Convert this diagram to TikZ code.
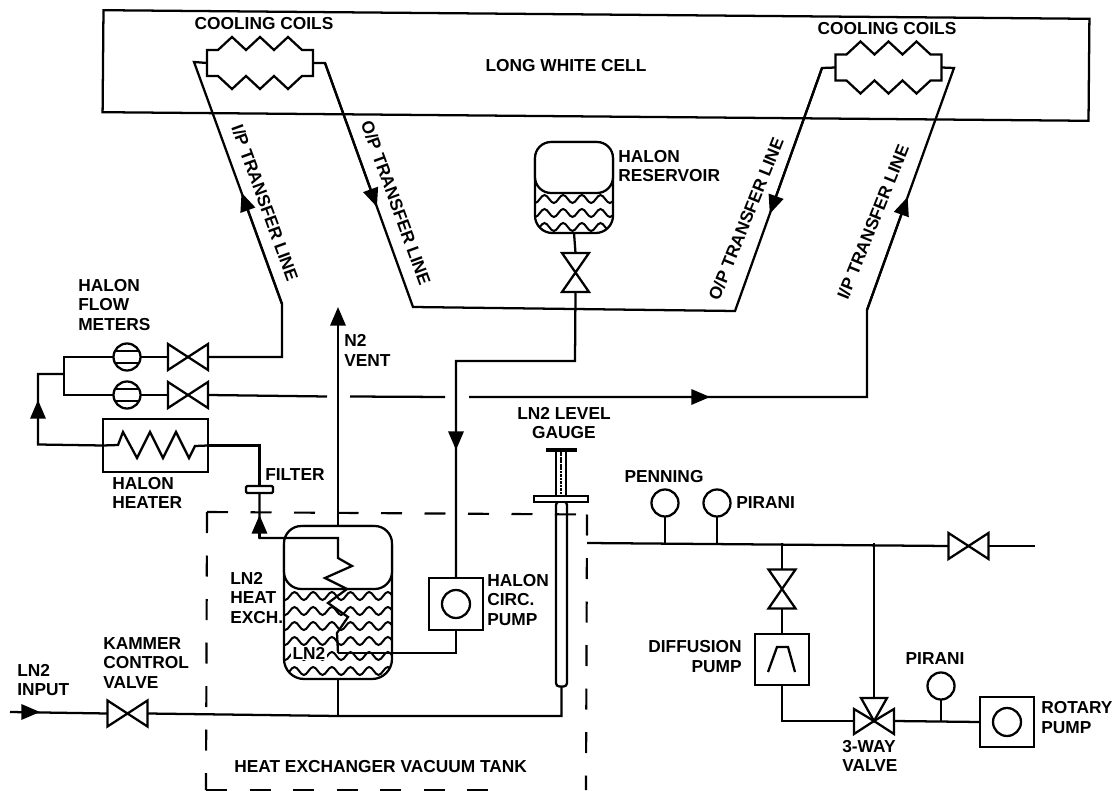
\documentclass[tikz,border=0pt]{standalone}
\usepackage{fontspec}
\setmainfont{Liberation Sans}
\usetikzlibrary{arrows.meta,calc,decorations.pathmorphing}
\def\px{0.75pt}
\newcommand{\hvalve}[2]{\node[valvebox,minimum width=40*\px,minimum height=26*\px] (#1) at (#2) {};
  \draw[pipe] (#1.south west) -- (#1.north east) -- (#1.south east) -- (#1.north west) -- cycle;}
\newcommand{\vvalve}[2]{\node[valvebox,minimum width=27*\px,minimum height=39*\px] (#1) at (#2) {};
  \draw[pipe] (#1.north west) -- (#1.south east) -- (#1.south west) -- (#1.north east) -- cycle;}
\newcommand{\coil}[2]{\node[valvebox,minimum width=106*\px,minimum height=26*\px] (#1) at (#2) {};
  \draw[pipe] (#1.north west) -- ++(11,0) -- ++(14,-13) -- ++(14,13) -- ++(14,-13) -- ++(14,13) -- ++(14,-13) -- ++(14,13) -- (#1.north east)
    -- (#1.south east) -- ++(-11,0) -- ++(-14,13) -- ++(-14,-13) -- ++(-14,13) -- ++(-14,-13) -- ++(-14,13) -- ++(-14,-13) -- (#1.south west) -- cycle;}

\begin{document}
\begin{tikzpicture}[
    x=\px, y=-\px,
    pipe/.style={line width=1.7pt, line join=miter},
    arrow/.style={pipe, -{Triangle[length=14pt,width=11.5pt]}},
    valvebox/.style={inner sep=0pt, outer sep=0pt},
    unit/.style={draw, line width=1.7pt, inner sep=0pt, outer sep=0pt},
    gauge/.style={unit, circle, minimum size=27*\px},
    meter/.style={gauge, path picture={
      \draw[pipe] ([yshift=4.5pt]path picture bounding box.west) -- ([yshift=4.5pt]path picture bounding box.east);
      \draw[pipe] ([yshift=-4.5pt]path picture bounding box.west) -- ([yshift=-4.5pt]path picture bounding box.east);}},
    wave/.style={decorate, decoration={snake,segment length=14pt,amplitude=3pt}, line width=1.5pt},
    tankline/.style={line width=1.6pt, dash pattern=on 21*\px off 22.5*\px},
    lbl/.style={font=\bfseries\fontsize{13}{14.6}\selectfont, align=left, inner sep=0pt},
    ctr/.style={lbl, align=center}
  ]
    \useasboundingbox (0,0) rectangle (1117,791);
    % long white cell
    \node[unit, rotate=-0.5, minimum width=986*\px, minimum height=102*\px] (cell) at (596,65.5) {};
    \node[ctr] (celltext) at (566,66) {LONG WHITE CELL};
    \coil{coila}{260,63}
    \coil{coilb}{888.5,67.5}
    \node[ctr] (coilatext) at (264,24) {COOLING COILS};
    \node[ctr] (coilbtext) at (887,29) {COOLING COILS};
    % transfer lines
    \coordinate (ipain) at (194,62);
    \coordinate (ipabend) at (282,304);
    \coordinate (opa) at (325,63);
    \coordinate (opb) at (413,307);
    \coordinate (opc) at (735,311);
    \coordinate (opd) at (822,68);
    \coordinate (ipbin) at (954,68);
    \coordinate (ipbbend) at (867,310);
    \coordinate (ipbfoot) at (867,397);
    \coordinate (gapa) at (327,396.5);
    \coordinate (gapb) at (350,396.5);
    \coordinate (gapc) at (445,397);
    \coordinate (gapd) at (469,397);
    \draw[pipe] (coila.east) -- (opa) -- (opb) -- (opc) -- (opd) -- (coilb.west);
    \draw[pipe] (coilb.east) -- (ipbin) -- (ipbbend) -- (ipbfoot) -- (gapd);
    \draw[pipe] (gapc) -- (gapb);
    \draw[arrow] (opa) -- ($(opa)!0.59!(opb)$);
    \draw[arrow] (opd) -- ($(opd)!0.6!(opc)$);
    \draw[arrow] (ipbbend) -- ($(ipbbend)!0.467!(ipbin)$);
    \draw[arrow] (gapd) -- (710,397);
    \node[ctr, rotate=-70] (ipatext) at (265,203) {I/P TRANSFER LINE};
    \node[ctr, rotate=-70] (opatext) at (396,203) {O/P TRANSFER LINE};
    \node[ctr, rotate=68] (opbtext) at (746,219) {O/P TRANSFER LINE};
    \node[ctr, rotate=68] (ipbtext) at (873,222) {I/P TRANSFER LINE};
    % halon reservoir
    \node[unit, rounded corners=13pt, minimum width=78*\px, minimum height=91*\px] (reservoir) at (574,187.5) {};
    \begin{scope}
      \clip[rounded corners=13pt] (reservoir.north west) rectangle (reservoir.south east);
      \foreach \y in {199,213,227} \draw[wave] (520,\y) -- (630,\y);
    \end{scope}
    \node[unit, fill=white, rounded corners=12pt, minimum width=78*\px, minimum height=51*\px] (restop) at (574,167.5) {};
    \node[lbl, anchor=west] (restext) at (618,166) {HALON\\RESERVOIR};
    \vvalve{rv}{575.5,272.5}
    \draw[pipe] (reservoir.south) -- (rv.north);
    % flow meters and heater
    \node[meter] (fma) at (127,357) {};
    \node[meter] (fmb) at (127,395) {};
    \hvalve{fva}{188,357}
    \hvalve{fvb}{188,395}
    \node[unit, minimum width=105*\px, minimum height=53*\px] (heater) at (155.5,445.5) {};
    \coordinate (manf) at (64,374);
    \coordinate (feeda) at (38,374);
    \coordinate (feedb) at (38,444.5);
    \draw[pipe] (fma.east) -- (fva.west);
    \draw[pipe] (fmb.east) -- (fvb.west);
    \draw[pipe] (fma.west) -| (manf) |- (fmb.west);
    \draw[pipe] (manf) -- (feeda) -- (feedb) -- (heater.west);
    \draw[arrow] (feedb) -- (38,400);
    \draw[pipe] (fva.east) -| (ipabend) -- (ipain) -- (coila.west);
    \draw[arrow] (ipabend) -- ($(ipabend)!0.46!(ipain)$);
    \draw[pipe] (fvb.east) -- (gapa);
    \draw[pipe] (heater.west) -- (118,445) -- (123,432) -- (137,458) -- (150,432) -- (163,458) -- (176,432) -- (189,458) -- (195,446) -- (heater.east);
    \node[lbl, anchor=west] (fmtext) at (78,305) {HALON\\FLOW\\METERS};
    \node[lbl, anchor=west] (heatertext) at (112,493) {HALON\\HEATER};
    \node[unit, fill=white, rounded corners=1pt, minimum width=27*\px, minimum height=7*\px] (filter) at (259.5,489.5) {};
    \node[lbl, anchor=west] (filtertext) at (265,475) {FILTER};
    \draw[pipe] (heater.east) -| (filter.north);
    % heat exchanger
    \node[unit, rounded corners=15pt, minimum width=108*\px, minimum height=153*\px] (vessel) at (338,602.5) {};
    \begin{scope}
      \clip[rounded corners=15pt] (vessel.north west) rectangle (vessel.south east);
      \foreach \y in {596,611,626,641,656,671} \draw[wave] (270,\y) -- (410,\y);
    \end{scope}
    \node[unit, fill=white, rounded corners=13pt, minimum width=108*\px, minimum height=63*\px] (vesseltop) at (338,557.5) {};
    \node[lbl, fill=white, inner sep=1pt] (lntext) at (309,653) {LN2};
    \node[lbl, anchor=west] (vesseltext) at (230,598) {LN2\\HEAT\\EXCH.};
    \node[unit, minimum width=54*\px, minimum height=52*\px] (pump) at (456,604) {};
    \node[gauge, minimum size=28*\px] (pumpc) at (pump.center) {};
    \node[lbl, anchor=west] (pumptext) at (487,600) {HALON\\CIRC.\\PUMP};
    \coordinate (filtin) at (259.5,538);
    \coordinate (coilend) at (338,653);
    \coordinate (halb) at (575,361);
    \coordinate (haltip) at (456,450);
    \draw[pipe] (filter.south) -- (filtin) -- (338,538) -- (338,558) -- (352,566) -- (325,578) -- (347,589) -- (328,603) -- (348,617) -- (337,633) -- (coilend);
    \draw[arrow] (filtin) -- (259.5,515);
    \draw[pipe] (coilend) -| (pump.south);
    \draw[pipe] (rv.south) -- (halb) -| (pump.north);
    \draw[arrow] (halb -| pump.north) -- (haltip);
    \draw[arrow] (vessel.north) -- (338,307);
    \node[lbl, anchor=west] (venttext) at (344,350.5) {N2\\VENT};
    % LN2 input
    \hvalve{kv}{127.5,713.5}
    \coordinate (lnstart) at (10,712);
    \coordinate (lnjoin) at (338,716);
    \node[unit, rounded corners=2.5pt, minimum width=11*\px, minimum height=185*\px] (tube) at (561.5,594) {};
    \draw[arrow] (lnstart) -- (40,712);
    \draw[pipe] (lnstart) -- (kv.west);
    \draw[pipe] (kv.east) -- (lnjoin) -| (tube.south);
    \draw[pipe] (vessel.south) -- (lnjoin);
    \node[lbl, anchor=west] (inputtext) at (17,680) {LN2\\INPUT};
    \node[lbl, anchor=west] (kvtext) at (103,663) {KAMMER\\CONTROL\\VALVE};
    % level gauge
    \node[unit, minimum width=10*\px, minimum height=46*\px] (stem) at (561,473) {};
    \draw[line width=1.8pt, dash pattern=on 2pt off 0.6pt] (stem.north) -- (stem.south);
    \node[unit, inner sep=0pt, minimum width=29*\px, minimum height=0.6pt] (stembar) at (561.5,450) {};
    \node[unit, fill=white, minimum width=54*\px, minimum height=6*\px] (flange) at (561,499) {};
    \node[ctr] (leveltext) at (564,423) {LN2 LEVEL\\GAUGE};
    % vacuum tank outline
    \coordinate (tl) at (207,512);
    \coordinate (tr) at (587,514.5);
    \coordinate (bl) at (206,790);
    \coordinate (br) at (586,790);
    \coordinate (be) at (491,790);
    \draw[tankline] (tl) -- (tr);
    \draw[tankline] (tr) -- (br);
    \draw[tankline] (tl) -- (bl);
    \draw[tankline] (bl) -- (be);
    \node[lbl, anchor=west] (tanktext) at (234,767) {HEAT EXCHANGER VACUUM TANK};
    % vacuum line
    \hvalve{vacv}{968.5,546}
    \coordinate (vacl) at (587,543);
    \coordinate (vacend) at (1035,546);
    \draw[pipe] (vacl) -- (vacv.west);
    \draw[pipe] (vacv.east) -- (vacend);
    \node[gauge] (penning) at (665,503) {};
    \node[gauge] (pirania) at (717,503) {};
    \draw[pipe] (penning.south) -- (penning |- vacl);
    \draw[pipe] (pirania.south) -- (pirania |- vacl);
    \node[ctr] (penntext) at (664,477) {PENNING};
    \node[lbl, anchor=west] (piratext) at (736,503) {PIRANI};
    \vvalve{dv}{782,589}
    \node[unit, minimum width=54*\px, minimum height=51*\px] (diff) at (782,659.5) {};
    \draw[pipe] (768,672) -- (777,647) -- (788,647) -- (795,672);
    \draw[pipe] (dv.north) -- (dv |- vacl);
    \draw[pipe] (dv.south) -- (diff.north);
    \node[lbl, anchor=east, align=right] (difftext) at (742,656.5) {DIFFUSION\\PUMP};
    % 3-way valve and rotary pump
    \node[valvebox, minimum width=40*\px, minimum height=46*\px] (way) at (874,721) {};
    \draw[pipe] (way.center) -- ++(-20,-12) -- ++(0,25) -- cycle;
    \draw[pipe] (way.center) -- ++(20,-12) -- ++(0,25) -- cycle;
    \draw[pipe] (way.center) -- ++(-13,-23) -- ++(26,0) -- cycle;
    \draw[pipe] (way.north) -- (way |- vacl);
    \draw[pipe] (diff.south) |- (way.west);
    \node[unit, minimum width=54*\px, minimum height=50*\px] (rotary) at (1007,722) {};
    \node[gauge, minimum size=28*\px] (rotaryc) at (rotary.center) {};
    \draw[pipe] (way.east) -- (rotary.west);
    \node[gauge] (piranib) at (941,686) {};
    \draw[pipe] (piranib.south) -- (piranib |- way.east);
    \node[ctr] (pirbtext) at (935,659) {PIRANI};
    \node[lbl, anchor=west] (rotarytext) at (1041,717.5) {ROTARY\\PUMP};
    \node[lbl, anchor=west] (waytext) at (842,756) {3-WAY\\VALVE};
  \end{tikzpicture}
\end{document}
